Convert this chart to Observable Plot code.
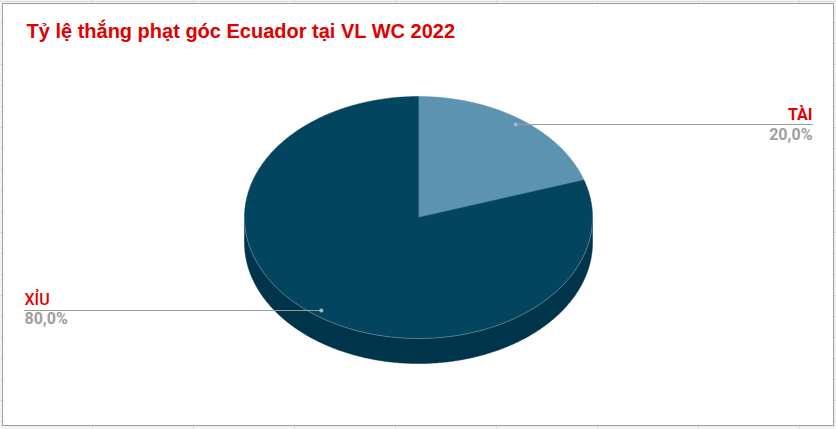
<!DOCTYPE html>
<html>
<head>
<meta charset="utf-8">
<script src="https://cdn.jsdelivr.net/npm/d3@7"></script>
<script src="https://cdn.jsdelivr.net/npm/@observablehq/plot@0.6"></script>
<style>
  html, body { margin: 0; padding: 0; }
  body {
    width: 836px; height: 429px; overflow: hidden;
    background-color: #f3f3f3;
    background-image:
      linear-gradient(to right, #dcdcdc 1px, transparent 1px),
      linear-gradient(to bottom, #dcdcdc 1px, transparent 1px);
    background-size: 101px 21px;
    background-position: -9px 1px;
  }
  #chart svg { display: block; }
</style>
</head>
<body>
<div id="chart"></div>
<script>
// ---- data ----
const categories = ["TÀI", "XỈU"];
const values = [20, 80];
const valueLabels = ["20,0%", "80,0%"];
const title = "Tỷ lệ thắng phạt góc Ecuador tại VL WC 2022";

// ---- layout / style constants ----
const topColors = ["#5b93b0", "#03455f"];
const sideColors = ["#3f6f88", "#00344a"];
const depth = 0.207;       // thickness in y units (unit radius)
const labelX = 2.264;      // leader line end in x units
const dotR = 0.95;

const arcs = d3.pie().sort(null).value(d => d)(values);

function arcPts(a0, a1, dy = 0) {
  const n = Math.max(2, Math.ceil((a1 - a0) / 0.01));
  const out = [];
  for (let i = 0; i <= n; i++) {
    const a = a0 + (a1 - a0) * i / n;
    out.push({x: Math.sin(a), y: Math.cos(a) + dy});
  }
  return out;
}

// top slices
const topRows = [];
arcs.forEach((a, i) => {
  const pts = [{x: 0, y: 0}, ...arcPts(a.startAngle, a.endAngle), {x: 0, y: 0}];
  pts.forEach(p => topRows.push({...p, k: categories[i]}));
});

// visible sides (front half)
const sideRows = [];
arcs.forEach((a, i) => {
  const s = Math.max(a.startAngle, Math.PI / 2);
  const e = Math.min(a.endAngle, 3 * Math.PI / 2);
  if (e <= s) return;
  const top = arcPts(s, e);
  const bot = arcPts(s, e, -depth).reverse();
  [...top, ...bot, top[0]].forEach(p => sideRows.push({...p, k: categories[i]}));
});

// front edge highlight
const edgeRows = arcPts(Math.PI / 2, 3 * Math.PI / 2);

// leader lines and labels
const labelRows = arcs.map((a, i) => {
  const m = (a.startAngle + a.endAngle) / 2;
  const dx = dotR * Math.sin(m), dy = dotR * Math.cos(m);
  const right = dx >= 0;
  return {k: categories[i], v: valueLabels[i], dx, dy, lx: right ? labelX : -labelX, right};
});
const rightLabels = labelRows.filter(r => r.right);
const leftLabels = labelRows.filter(r => !r.right);
const leaderRows = labelRows.flatMap(r => [
  {x: r.dx, y: r.dy, k: r.k},
  {x: r.lx, y: r.dy, k: r.k}
]);

const labelFont = "Roboto, 'Liberation Sans', sans-serif";

const plot = Plot.plot({
  width: 836,
  height: 429,
  marginLeft: 2, marginTop: 3, marginRight: 3, marginBottom: 4,
  x: {domain: [-labelX, labelX], range: [24, 812], axis: null},
  y: {domain: [-1, 1], range: [338, 96], axis: null},
  color: {domain: categories, range: topColors},
  style: {background: "transparent", overflow: "visible"},
  marks: [
    Plot.frame({fill: "white", stroke: "#9e9e9e", strokeWidth: 1}),
    Plot.text([title], {
      frameAnchor: "top-left", dx: 24, dy: 34, lineAnchor: "bottom", textAnchor: "start",
      fill: "#e00000", fontSize: 20, fontWeight: "bold",
      fontFamily: "'Liberation Sans', Arial, sans-serif"
    }),
    Plot.line(sideRows, {
      x: "x", y: "y", z: "k",
      fill: d => sideColors[categories.indexOf(d.k)],
      stroke: d => sideColors[categories.indexOf(d.k)], strokeWidth: 0.5
    }),
    Plot.line(topRows, {
      x: "x", y: "y", z: "k", fill: "k", stroke: "k", strokeWidth: 0.5
    }),
    Plot.line(edgeRows, {
      x: "x", y: "y", stroke: "#ffffff", strokeOpacity: 0.35, strokeWidth: 0.8
    }),
    Plot.line(leaderRows, {
      x: "x", y: "y", z: "k", stroke: "#9a9a9a", strokeWidth: 1.2
    }),
    Plot.dot(labelRows, {
      x: "dx", y: "dy", r: 2, fill: "#a8b8c4", stroke: "none"
    }),
    // right side labels
    Plot.text(rightLabels, {
      x: "lx", y: "dy", text: "k", dy: -5, lineAnchor: "bottom", textAnchor: "end",
      fill: "#e00000", fontSize: 16, fontWeight: "bold", fontFamily: labelFont
    }),
    Plot.text(rightLabels, {
      x: "lx", y: "dy", text: "v", dy: 15, lineAnchor: "bottom", textAnchor: "end",
      fill: "#9e9e9e", fontSize: 16, fontWeight: "bold", fontFamily: labelFont
    }),
    // left side labels
    Plot.text(leftLabels, {
      x: "lx", y: "dy", text: "k", dy: -5, lineAnchor: "bottom", textAnchor: "start",
      fill: "#e00000", fontSize: 16, fontWeight: 500, fontFamily: labelFont
    }),
    Plot.text(leftLabels, {
      x: "lx", y: "dy", text: "v", dy: 14, lineAnchor: "bottom", textAnchor: "start",
      fill: "#9e9e9e", fontSize: 16, fontWeight: "bold", fontFamily: labelFont
    })
  ]
});
document.getElementById("chart").appendChild(plot);
</script>
</body>
</html>
